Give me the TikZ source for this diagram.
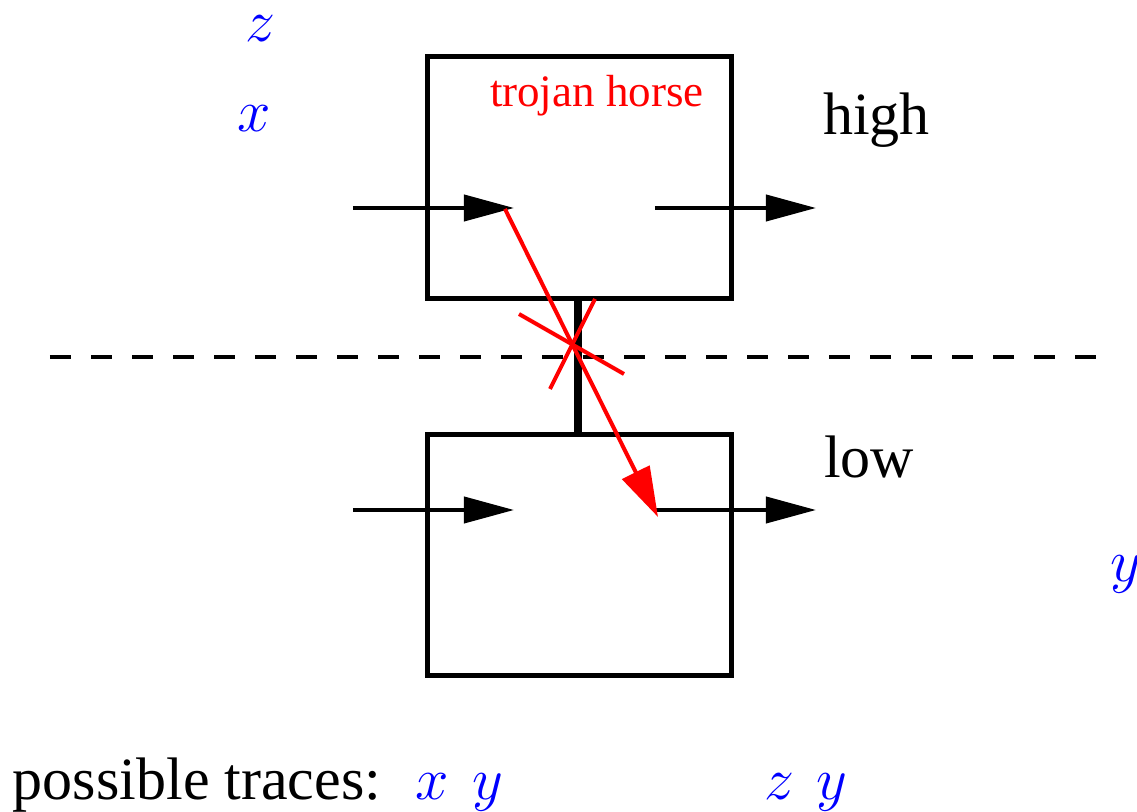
\documentclass[tikz,border=0pt]{standalone}
\usepackage{fontspec}
\setmainfont{Liberation Serif}
\usetikzlibrary{arrows.meta}
\begin{document}
\begin{tikzpicture}[x=0.2pt,y=-0.2pt,
  box/.style={draw,line width=1pt,minimum width=60.6pt,minimum height=48.3pt,inner sep=0pt},
  flow/.style={line width=0.8pt,-{Triangle[length=10pt,width=5.2pt]}},
  leak/.style={red,line width=0.8pt},
  lbl/.style={anchor=base west,inner sep=0pt,font=\fontsize{12}{14}\selectfont},
  var/.style={lbl,text=blue}]
\useasboundingbox (0,0) rectangle (1137,812);
% boxes
\node[box] (hi) at (579.5,177.5) {};
\node[box] (lo) at (579.5,555) {};
% connecting bar
\coordinate (barT) at (578,298);
\coordinate (barB) at (578,434);
\draw[line width=1.6pt] (barT) -- (barB);
% dashed divider
\coordinate (dL) at (50,357);
\coordinate (dR) at (1112,357);
\draw[line width=0.8pt,dash pattern=on 4.2pt off 4pt] (dL) -- (dR);
% flows
\coordinate (hiA) at (353,208); \coordinate (hiB) at (514,208);
\coordinate (hiC) at (655,208); \coordinate (hiD) at (816,208);
\coordinate (loA) at (353,510); \coordinate (loB) at (514,510);
\coordinate (loC) at (655,510); \coordinate (loD) at (816,510);
\draw[flow] (hiA) -- (hiB);
\draw[flow] (hiC) -- (hiD);
\draw[flow] (loA) -- (loB);
\draw[flow] (loC) -- (loD);
% trojan leak
\coordinate (tS) at (505,209);
\coordinate (tE) at (658,517);
\draw[leak,-{Triangle[length=10pt,width=6pt]}] (tS) -- (tE);
\coordinate (x1a) at (519,314); \coordinate (x1b) at (624,374);
\coordinate (x2a) at (595,299); \coordinate (x2b) at (550,389);
\draw[leak] (x1a) -- (x1b);
\draw[leak] (x2a) -- (x2b);
% labels
\node[lbl,text=red,font=\fontsize{9}{11}\selectfont] (th) at (489,107) {trojan horse};
\node[lbl] (high) at (822,135) {high};
\node[lbl] (low) at (823,478) {low};
\node[var] (vz) at (244,42) {$z$};
\node[var] (vx) at (237,132) {$x$};
\node[var] (vy) at (1110,582) {$y$};
\node[lbl] (pt) at (12,800) {possible traces:};
\node[var] (t1) at (415,800) {$x$};
\node[var] (t2) at (472,800) {$y$};
\node[var] (t3) at (764,800) {$z$};
\node[var] (t4) at (815,800) {$y$};
\end{tikzpicture}
\end{document}
